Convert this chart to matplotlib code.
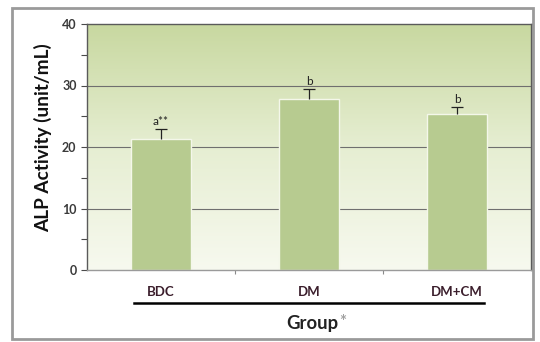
import matplotlib
matplotlib.use("Agg")
import matplotlib.pyplot as plt
import numpy as np
from matplotlib.colors import LinearSegmentedColormap
from matplotlib.patches import Rectangle
from matplotlib.transforms import blended_transform_factory

plt.rcParams["font.family"] = ["Lato", "DejaVu Sans"]

groups = ["BDC", "DM", "DM+CM"]
alp_mean = [21.3, 27.8, 25.3]
alp_err = [1.6, 1.6, 1.2]
letters = ["a**", "b", "b"]

fig = plt.figure(figsize=(5.4, 3.42), dpi=100)

# outer chart frame
fig.patches.append(Rectangle((12 / 540, 3 / 342), 521 / 540, 331 / 342,
                             transform=fig.transFigure, facecolor="white",
                             edgecolor="#9a9a9a", lw=2.0, zorder=-2))

ax = fig.add_axes([87 / 540, 72 / 342, 444 / 540, 246 / 342])
x = np.arange(len(groups))

# green-to-white gradient in the plot area
cmap = LinearSegmentedColormap.from_list("bg", ["#f7f9ef", "#e6eed2", "#c8d8a0"])
grad = np.linspace(0, 1, 256).reshape(-1, 1)
ax.imshow(grad, extent=(-0.5, 2.5, 0, 40), origin="lower", aspect="auto",
          cmap=cmap, zorder=0)

for yv in [10, 20, 30]:
    ax.axhline(yv, color="#6f6f6f", lw=0.8, zorder=1)

ax.bar(x, alp_mean, width=0.4, color="#b7cb90", edgecolor="#f4f7ea",
       linewidth=1.0, zorder=2)
# upper-only error bars (T shape)
tops = np.array(alp_mean) + np.array(alp_err)
ax.vlines(x, alp_mean, tops, color="#222222", lw=0.9, zorder=3)
ax.plot(x, tops, ls="none", marker="_", ms=8, mew=0.9, color="#222222", zorder=3)
for xi, t, lab in zip(x, tops, letters):
    ax.text(xi, t + 0.3, lab, ha="center", va="bottom", fontsize=8.5,
            color="#222222", zorder=4)

ax.set_xlim(-0.5, 2.5)
ax.set_ylim(0, 40)
ax.set_yticks([0, 10, 20, 30, 40])
ax.set_yticks([5, 15, 25, 35], minor=True)
ax.set_xticks([0.5, 1.5])
ax.set_xticklabels([])
ax.tick_params(axis="y", which="both", direction="out", length=4, width=0.8,
               colors="#4a4a4a", labelsize=9)
ax.tick_params(axis="x", direction="out", length=3, width=0.8, colors="#8a8a8a")
for lbl in ax.get_yticklabels():
    lbl.set_fontweight("bold")
    lbl.set_color("#3a3a3a")
for side in ["top", "right", "left", "bottom"]:
    ax.spines[side].set_color("#5a5a5a")
    ax.spines[side].set_linewidth(1.0)
ax.spines["bottom"].set_color("#9a9a9a")

trans = blended_transform_factory(ax.transData, fig.transFigure)
for xi, g in zip(x, groups):
    ax.text(xi, 1 - 292 / 342, g, transform=trans, ha="center", va="center",
            fontsize=9.5, fontweight="bold", color="#3b1e2c")
ax.plot([-0.18, 2.18], [1 - 303 / 342] * 2, transform=trans, color="black",
        lw=1.8, clip_on=False)
fig.text(286 / 540, 1 - 323 / 342, "Group", ha="left", va="center",
         fontsize=13.3, fontweight="bold", color="#222222")
fig.text(343 / 540, 1 - 322 / 342, "*", ha="center", va="center",
         fontsize=12, fontweight="bold", color="#a0a0a0")

fig.text(43 / 540, 1 - 138 / 342, "ALP Activity (unit/mL)", rotation=90,
         ha="center", va="center", fontsize=13.7, fontweight="bold", color="#111111")

fig.savefig("out.png", dpi=100)
